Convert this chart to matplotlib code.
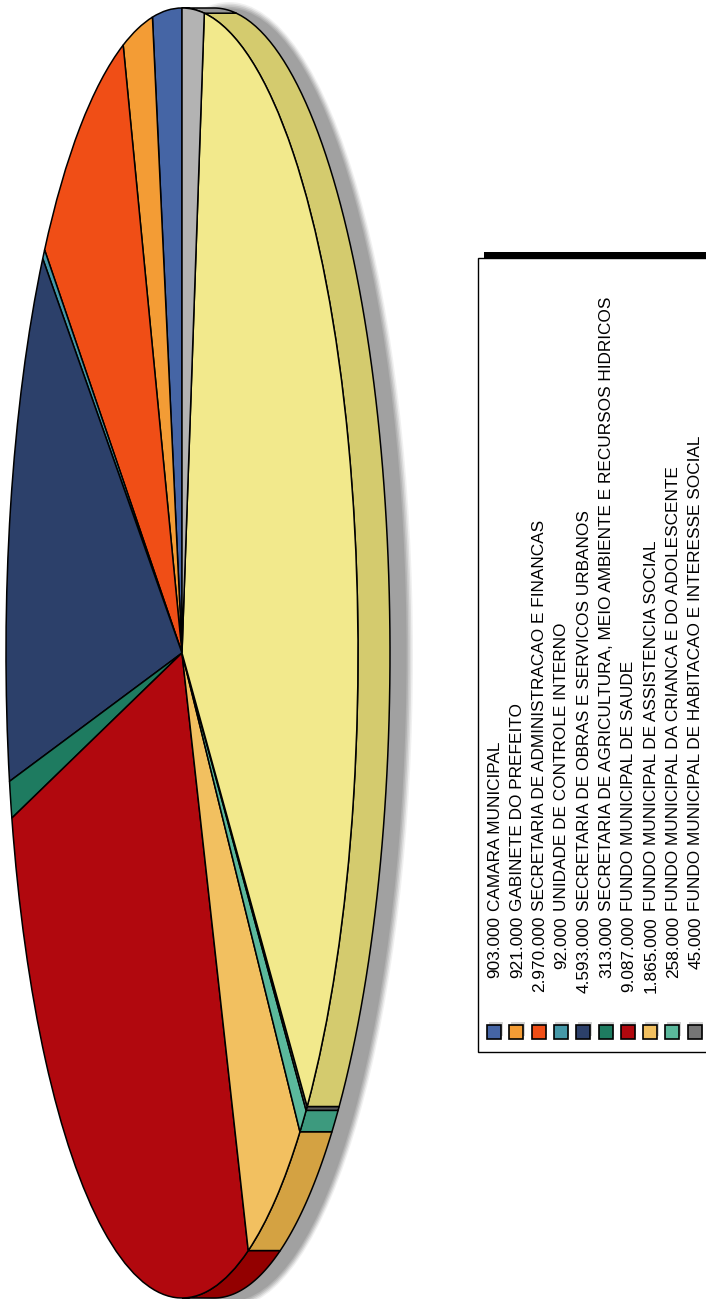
import numpy as np
import matplotlib
matplotlib.use("Agg")
import matplotlib.pyplot as plt
from matplotlib.patches import Rectangle, Polygon, Ellipse

# budget per unit (R$), legend order = slice order
names = ["CAMARA MUNICIPAL",
         "GABINETE DO PREFEITO",
         "SECRETARIA DE ADMINISTRACAO E FINANCAS",
         "UNIDADE DE CONTROLE INTERNO",
         "SECRETARIA DE OBRAS E SERVICOS URBANOS",
         "SECRETARIA DE AGRICULTURA, MEIO AMBIENTE E RECURSOS HIDRICOS",
         "FUNDO MUNICIPAL DE SAUDE",
         "FUNDO MUNICIPAL DE ASSISTENCIA SOCIAL",
         "FUNDO MUNICIPAL DA CRIANCA E DO ADOLESCENTE",
         "FUNDO MUNICIPAL DE HABITACAO E INTERESSE SOCIAL",
         "SECRETARIA DE EDUCACAO",
         "RESERVA DE CONTINGENCIA"]
values = [903000, 921000, 2970000, 92000, 4593000, 313000,
          9087000, 1865000, 258000, 45000, 11900000, 680000]
colors = ["#4565a5", "#f39c35", "#f04e16", "#4598a8", "#2c406a", "#1e7b60",
          "#b1080e", "#f2c060", "#5bb89c", "#767676", "#f2e98c", "#b3b3b3"]

W, H = 706, 1299
cx, cy, a, b = 182, 653, 176, 645   # pie centre and semi-axes in pixels
depth = 32 / a                      # wall thickness, in x data units


def darker(c, amount=30):
    r, g, bl = [int(c[i:i + 2], 16) for i in (1, 3, 5)]
    return "#%02x%02x%02x" % tuple(max(v - amount, 0) for v in (r, g, bl))


fig = plt.figure(figsize=(W / 100, H / 100), dpi=100)
ax = fig.add_axes([0, 0, 1, 1])

wedges, _ = ax.pie(values, colors=colors, startangle=90, counterclock=True,
                   radius=1, wedgeprops=dict(edgecolor="black", linewidth=1.1))
for w in wedges:
    w.set_zorder(3)

# soft shadow behind the wall
for k, al in zip(range(5), [0.15, 0.25, 0.35, 0.5, 0.9]):
    grow = (5 - k) * 1.6
    ax.add_patch(Ellipse((depth + 15 / a, -2 / b), 2 + 2 * grow / a, 2 + 2 * grow / b,
                         facecolor="#a0a0a0", edgecolor="none", alpha=al, zorder=1))

# visible side wall (right half of the rim)
frac = np.cumsum([0] + values) / sum(values)
angles = 90 + 360 * frac
for i in range(len(values)):
    lo, hi = max(angles[i], 270), min(angles[i + 1], 450)
    if lo >= hi:
        continue
    t = np.radians(np.linspace(lo, hi, 80))
    rim = np.column_stack([np.cos(t), np.sin(t)])
    outer = rim[::-1] + [depth, 0]
    ax.add_patch(Polygon(np.vstack([rim, outer]), closed=True,
                         facecolor=darker(colors[i]), edgecolor="black",
                         linewidth=1.1, zorder=2))

ax.set_aspect("auto")
ax.set_xlim((0 - cx) / a, (W - cx) / a)
ax.set_ylim((cy - H) / b, (cy - 0) / b)
ax.axis("off")

# legend (rotated, runs off the right edge)
lax = fig.add_axes([0, 0, 1, 1], zorder=5)
lax.set_xlim(0, W)
lax.set_ylim(H, 0)
lax.axis("off")
lax.patch.set_alpha(0)

box_x, box_top, box_bot = 478, 258, 1052
lax.add_patch(Rectangle((box_x + 6, box_top - 6), 300, box_bot - box_top,
                        facecolor="black", edgecolor="none"))
lax.add_patch(Rectangle((box_x, box_top), 300, box_bot - box_top,
                        facecolor="white", edgecolor="black", linewidth=1))

col0, step = 494, 22.3
for i, (n, v, c) in enumerate(zip(names, values, colors)):
    x = col0 + i * step
    if x + 8 > W:
        break  # remaining rows fall outside the picture
    lax.add_patch(Rectangle((x - 5.5, 1022), 14, 14, facecolor="#c8c8c8",
                            edgecolor="none", alpha=0.8))
    lax.add_patch(Rectangle((x - 7, 1025), 14, 14, facecolor=c,
                            edgecolor="black", linewidth=1.2))
    lax.text(x + 1, 916, f"{v:,}".replace(",", "."), rotation=90, ha="center",
             va="top", fontsize=12.4, family="Liberation Sans")
    lax.text(x + 1, 911, n, rotation=90, ha="center", va="bottom",
             fontsize=12.4, family="Liberation Sans")

fig.savefig("out.png", dpi=100)
